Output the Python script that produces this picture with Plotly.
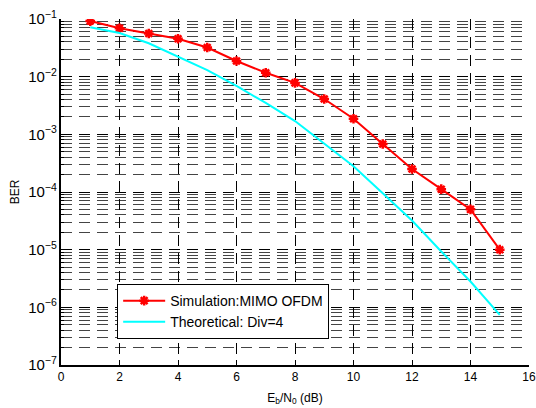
import plotly.graph_objects as go

ebn0 = [1, 2, 3, 4, 5, 6, 7, 8, 9, 10, 11, 12, 13, 14, 15]
ber_sim = [0.092, 0.069, 0.056, 0.0455, 0.032, 0.0187, 0.0117, 0.0078, 0.0041,
           0.00186, 0.00068, 0.00025, 0.000112, 0.00005, 0.00001]
ber_theory = [0.072, 0.057, 0.038, 0.022, 0.013, 0.0069, 0.0035, 0.0017, 0.0007,
              0.00028, 0.000095, 0.000032, 0.0000093, 0.0000028, 0.00000074]

fig = go.Figure()
fig.add_trace(go.Scatter(
    x=ebn0, y=ber_sim, mode="lines+markers", name="Simulation:MIMO OFDM",
    line=dict(color="#ff0000", width=2),
    marker=dict(symbol="asterisk-open", size=8, color="#ff0000",
                line=dict(color="#ff0000", width=2.5)),
))
fig.add_trace(go.Scatter(
    x=ebn0, y=ber_theory, mode="lines", name="Theoretical: Div=4",
    line=dict(color="#00ffff", width=2),
))

family = "Liberation Sans, Arial, Helvetica, sans-serif"
font = dict(family=family, size=12, color="black")
grid_dash = "11px,7px"

fig.update_layout(
    width=536, height=408,
    margin=dict(l=61, r=7, t=19, b=43, autoexpand=False),
    paper_bgcolor="white", plot_bgcolor="white",
    font=font,
    showlegend=True,
    legend=dict(x=0.12, y=0.234, xanchor="left", yanchor="top",
                bgcolor="white", bordercolor="black", borderwidth=1,
                font=dict(family=family, size=14, color="black"),
                itemwidth=42, tracegroupgap=0),
    xaxis=dict(
        range=[0, 16], dtick=2, tick0=0, automargin=False,
        ticklabeloverflow="allow",
        showline=True, linecolor="black", linewidth=1.5,
        ticks="inside", ticklen=5, tickcolor="black",
        tickfont=dict(family=family, size=12),
        showgrid=True, gridcolor="black", gridwidth=1, griddash=grid_dash,
        zeroline=False,
        title=dict(text="E<sub>b</sub>/N<sub>0</sub> (dB)", standoff=10,
                   font=dict(family=family, size=12)),
    ),
    yaxis=dict(
        type="log", range=[-7, -1], dtick=1, exponentformat="power",
        showexponent="all", automargin=False,
        ticklabeloverflow="allow",
        showline=True, linecolor="black", linewidth=1.5,
        ticks="inside", ticklen=5, tickcolor="black",
        tickfont=dict(family=family, size=12),
        showgrid=True, gridcolor="black", gridwidth=1, griddash=grid_dash,
        zeroline=False,
        minor=dict(dtick="D1", showgrid=True, gridcolor="#444444", gridwidth=1,
                   griddash=grid_dash, ticks="inside", ticklen=3, tickcolor="black"),
        title=dict(text="BER", standoff=6, font=dict(family=family, size=12)),
    ),
)

# remove the browser's default 8px body margin so the figure fills the window
fig.write_html("out.html", config={"displayModeBar": False},
               post_script="document.body.style.margin='0';")
